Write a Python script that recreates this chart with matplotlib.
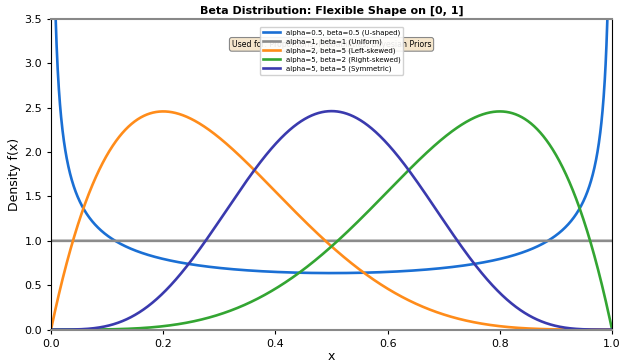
import matplotlib
matplotlib.use("Agg")
import matplotlib.pyplot as plt
import numpy as np
from math import gamma

# shape parameters
alphas = [0.5, 1, 2, 5, 5]
betas = [0.5, 1, 5, 2, 5]
labels = ['alpha=0.5, beta=0.5 (U-shaped)',
          'alpha=1, beta=1 (Uniform)',
          'alpha=2, beta=5 (Left-skewed)',
          'alpha=5, beta=2 (Right-skewed)',
          'alpha=5, beta=5 (Symmetric)']
colors = ['#1a6fd4', '#8c8c8c', '#ff8c1a', '#33a532', '#3a3aae']


def beta_pdf(x, a, b):
    return gamma(a + b) / (gamma(a) * gamma(b)) * x ** (a - 1) * (1 - x) ** (b - 1)


x = np.linspace(0.0005, 0.9995, 2000)

fig, ax = plt.subplots(figsize=(6.22, 3.63), dpi=100)
for a, b, lab, c in zip(alphas, betas, labels, colors):
    xs = np.concatenate([[0.0], x, [1.0]]) if a >= 1 and b >= 1 else x
    ax.plot(xs, beta_pdf(xs, a, b), color=c, lw=1.9, label=lab)

ax.set_xlim(0, 1)
ax.set_ylim(0, 3.5)
ax.set_title('Beta Distribution: Flexible Shape on [0, 1]', fontsize=8, fontweight='bold', pad=4)
ax.set_xlabel('x', fontsize=9, labelpad=1)
ax.set_ylabel('Density f(x)', fontsize=9, labelpad=2)
ax.tick_params(labelsize=8, length=3)
for s in ('top', 'bottom'):
    ax.spines[s].set_color('#888888')
    ax.spines[s].set_linewidth(1.5)

ax.text(0.5, 0.918, 'Used for: Proportions, Probabilities, Bayesian Priors',
        transform=ax.transAxes, ha='center', va='center', fontsize=5.6,
        bbox=dict(boxstyle='round,pad=0.3', facecolor='#f5e6cc', edgecolor='#888888', lw=0.8))
leg = ax.legend(loc='upper center', fontsize=5, frameon=True, borderpad=0.4,
                handlelength=2.5, labelspacing=0.35, bbox_to_anchor=(0.5, 0.985))
leg.get_frame().set_alpha(0.9)

fig.subplots_adjust(left=0.082, right=0.984, top=0.948, bottom=0.092)
fig.savefig('out.png', dpi=100)
